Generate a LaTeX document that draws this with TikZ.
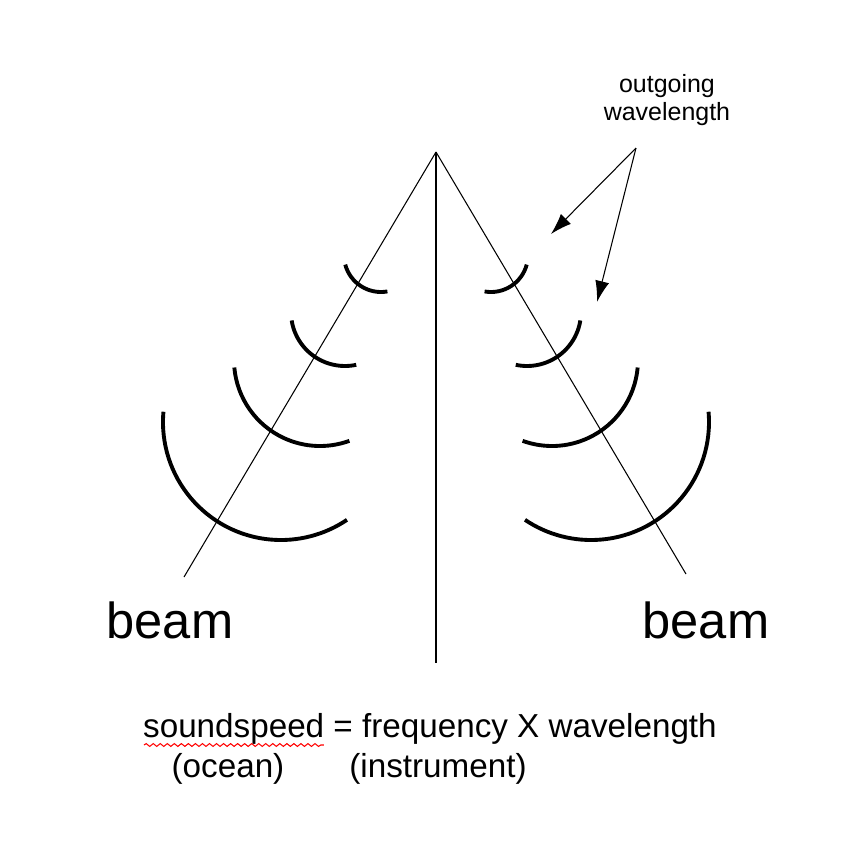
\documentclass[tikz,border=0pt]{standalone}
\usepackage{fontspec}
\setmainfont{Liberation Sans}
\usetikzlibrary{positioning, arrows.meta, decorations.pathmorphing}

\tikzset{
	wave/.style={line width=1.1pt},
	ray/.style={line width=0.3pt},
	lbl/.style={inner sep=0pt, align=center}
}

\begin{document}
\begin{tikzpicture}[x=0.01cm, y=-0.01cm]
		
		\useasboundingbox (0,0) rectangle (850,850);
		
		%//apex and beams
		\coordinate (apex) at (436,152);
		\coordinate (lend) at (184,577);
		\coordinate (rend) at (686,574);
		\coordinate (mend) at (436,663);
		\draw [ray] (apex) -- (lend);
		\draw [ray] (apex) -- (rend);
		\draw [ray] (apex) -- (mend);
		
		%//wavefronts, left and mirrored right
		\foreach \cx/\cy/\r/\a/\b in {381/255/37/165/80, 345/312/54/171/78, 320/360/86/175/70, 281/422/118/185/56}
		{
		\draw [wave] (\cx,\cy) ++(\a:\r) arc[start angle=\a, end angle=\b, radius=\r];
		\draw [wave] (872-\cx,\cy) ++(180-\a:\r) arc[start angle=180-\a, end angle=180-\b, radius=\r];
		}
		
		%//labels
		\node [lbl, font=\fontsize{7.1}{8.2}\selectfont] (outg) at (667,100) {outgoing\\wavelength};
		\coordinate (tip1) at (551,234);
		\coordinate (tip2) at (597,302);
		\coordinate (fork) at (636,148);
		\draw [ray, -{Latex[length=6pt,width=4pt]}] (fork) -- (tip1);
		\draw [ray, -{Latex[length=6pt,width=4pt]}] (fork) -- (tip2);
		
		\node [lbl, font=\fontsize{14.4}{16}\selectfont] (lbeam) at (170,620) {beam};
		\node [lbl, font=\fontsize{14.4}{16}\selectfont] (rbeam) at (706,620) {beam};
		
		\node [lbl, font=\fontsize{9.45}{11}\selectfont] (eqn) at (430,729) {soundspeed = frequency X wavelength};
		\node [lbl, font=\fontsize{9.45}{11}\selectfont] (ocean) at (228,769) {(ocean)};
		\node [lbl, font=\fontsize{9.45}{11}\selectfont] (instr) at (438,769) {(instrument)};
		\draw [red, line width=0.3pt, decorate, decoration={snake, amplitude=0.4pt, segment length=2pt}] (144,745) -- (324,745);
		
		\end{tikzpicture}
\end{document}
